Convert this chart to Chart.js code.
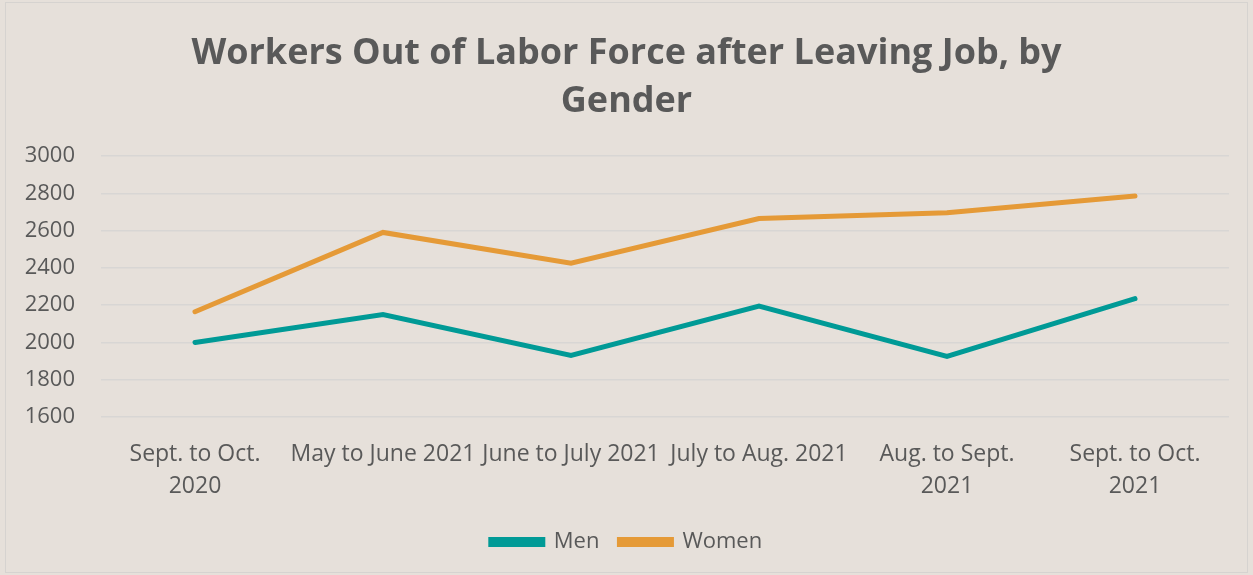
<!DOCTYPE html>
<html>
<head>
<meta charset="utf-8">
<script src="https://cdn.jsdelivr.net/npm/chart.js@4.4.0/dist/chart.umd.min.js"></script>
<style>
  html, body { margin: 0; padding: 0; background: #e6e0da; }
  #wrap { width: 1253px; height: 575px; position: relative; }
</style>
</head>
<body>
<div id="wrap"><canvas id="chart"></canvas></div>
<script>
//
// Data
//
const TITLE_LINES = ['Workers Out of Labor Force after Leaving Job, by', 'Gender'];
const PERIODS = [
  ['Sept. to Oct.', '2020'],
  'May to June 2021',
  'June to July 2021',
  'July to Aug. 2021',
  ['Aug. to Sept.', '2021'],
  ['Sept. to Oct.', '2021']
];
const MEN = [2000, 2150, 1930, 2195, 1925, 2235];
const WOMEN = [2165, 2590, 2425, 2665, 2695, 2785];
const Y_MIN = 1600;
const Y_MAX = 3000;
const Y_STEP = 200;

const TEXT_COLOR = '#595959';
const MEN_COLOR = '#009a96';
const WOMEN_COLOR = '#e59a37';

// paint the beige background and the thin frame
const background = {
  id: 'background',
  beforeDraw(chart) {
    const ctx = chart.ctx;
    ctx.save();
    ctx.fillStyle = '#e6e0da';
    ctx.fillRect(0, 0, chart.width, chart.height);
    ctx.strokeStyle = '#d6d3d0';
    ctx.lineWidth = 1;
    ctx.strokeRect(5.5, 2.5, chart.width - 11, chart.height - 5);
    ctx.restore();
  }
};

const ctx = document.getElementById('chart').getContext('2d');
new Chart(ctx, {
  type: 'line',
  data: {
    labels: PERIODS,
    datasets: [{
      label: 'Men',
      data: MEN,
      borderColor: MEN_COLOR,
      backgroundColor: MEN_COLOR,
      borderWidth: 5,
      borderCapStyle: 'round',
      pointRadius: 0,
      tension: 0
    }, {
      label: 'Women',
      data: WOMEN,
      borderColor: WOMEN_COLOR,
      backgroundColor: WOMEN_COLOR,
      borderWidth: 5,
      borderCapStyle: 'round',
      pointRadius: 0,
      tension: 0
    }]
  },
  options: {
    responsive: true,
    maintainAspectRatio: false,
    animation: false,
    layout: { padding: { left: 24, right: 24, top: 0, bottom: 12 } },
    plugins: {
      title: {
        display: true,
        text: TITLE_LINES,
        color: TEXT_COLOR,
        font: { family: 'Open Sans', size: 36, weight: 'bold', lineHeight: 1.333 },
        padding: { top: 30, bottom: 30 }
      },
      legend: {
        position: 'bottom',
        labels: {
          color: TEXT_COLOR,
          font: { family: 'Open Sans', size: 22 },
          boxWidth: 52,
          boxHeight: 5,
          padding: 20
        }
      },
      tooltip: { enabled: false }
    },
    scales: {
      x: {
        offset: true,
        grid: { display: false },
        border: { display: false },
        ticks: {
          color: TEXT_COLOR,
          font: { family: 'Open Sans', size: 23, lineHeight: 1.39 },
          maxRotation: 0,
          autoSkip: false,
          padding: 13
        },
        // tighten the gap between the labels and the legend
        afterFit: (scale) => { scale.height -= 4; }
      },
      y: {
        min: Y_MIN,
        max: Y_MAX,
        grid: { color: '#d8d6d4', lineWidth: 1.5, drawTicks: false },
        border: { display: false },
        ticks: {
          stepSize: Y_STEP,
          color: TEXT_COLOR,
          font: { family: 'Open Sans', size: 22 },
          padding: 26,
          callback: (value) => String(value)
        },
        afterFit: (scale) => { scale.width = 77; }
      }
    }
  },
  plugins: [background]
});
</script>
</body>
</html>
